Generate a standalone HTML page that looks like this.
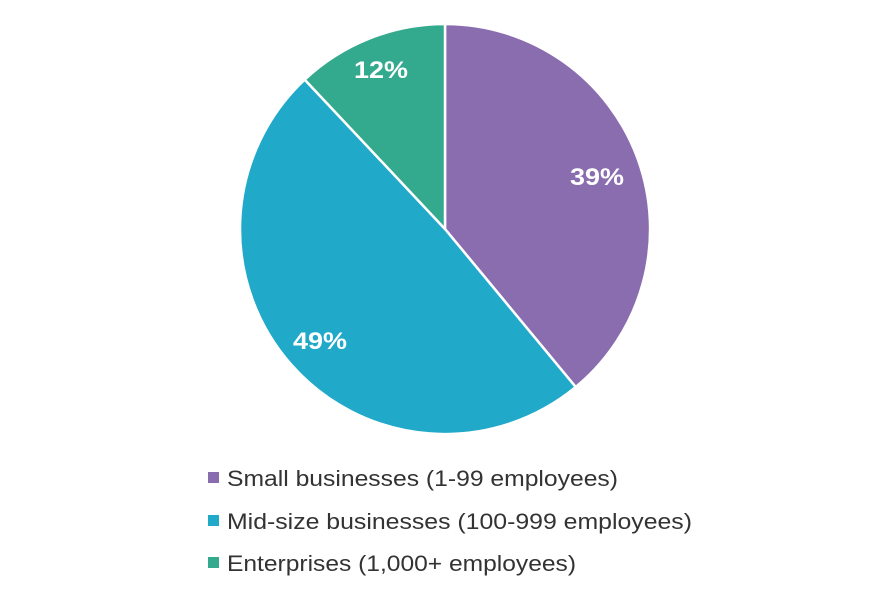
<!DOCTYPE html>
<html><head><meta charset="utf-8"><style>
html,body{margin:0;padding:0;background:#fff;}
body{width:889px;height:593px;overflow:hidden;font-family:"Liberation Sans",sans-serif;}
</style></head><body>
<svg width="889" height="593" viewBox="0 0 889 593" xmlns="http://www.w3.org/2000/svg">
<g stroke="#fff" stroke-width="2.5" stroke-linejoin="round">
<path d="M445,229 L445,24 A205,205 0 0,1 575.7,387 Z" fill="#8a6daf"/>
<path d="M445,229 L575.7,387 A205,205 0 0,1 304.7,79.6 Z" fill="#21a9c9"/>
<path d="M445,229 L304.7,79.6 A205,205 0 0,1 445,24 Z" fill="#33a98e"/>
</g>
<g fill="#fff" font-weight="bold" font-size="24" text-anchor="middle" font-family="Liberation Sans, sans-serif">
<text x="597" y="185" textLength="54" lengthAdjust="spacingAndGlyphs">39%</text>
<text x="320" y="349" textLength="54" lengthAdjust="spacingAndGlyphs">49%</text>
<text x="381" y="78" textLength="54" lengthAdjust="spacingAndGlyphs">12%</text>
</g>
<g font-size="22" fill="#333" font-family="Liberation Sans, sans-serif">
<rect x="208" y="472" width="11" height="11" fill="#8a6daf"/>
<text x="227" y="486" textLength="391" lengthAdjust="spacingAndGlyphs">Small businesses (1-99 employees)</text>
<rect x="208" y="515" width="11" height="11" fill="#21a9c9"/>
<text x="227" y="529" textLength="465" lengthAdjust="spacingAndGlyphs">Mid-size businesses (100-999 employees)</text>
<rect x="208" y="557" width="11" height="11" fill="#33a98e"/>
<text x="227" y="571" textLength="349" lengthAdjust="spacingAndGlyphs">Enterprises (1,000+ employees)</text>
</g>
</svg>
</body></html>
